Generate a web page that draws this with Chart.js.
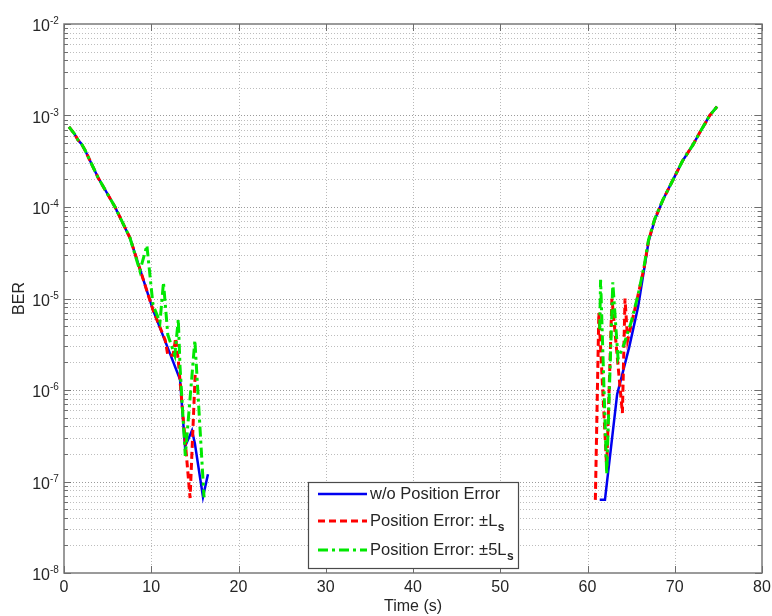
<!DOCTYPE html>
<html><head><meta charset="utf-8">
<script src="https://cdn.jsdelivr.net/npm/chart.js@4.4.1/dist/chart.umd.min.js"></script>
<style>html,body{margin:0;padding:0;background:#fff;}#wrap{width:772px;height:616px;}</style>
</head><body><div id="wrap"><canvas id="c" width="772" height="616"></canvas></div>
<script>
// ---- data (time in s, BER) ----
const tBlueL = [0.57, 1.2, 1.6, 2.0, 2.4, 3.9, 5.85, 7.56, 10.2, 12.15, 13.3, 13.87, 14.67, 15.0, 15.93, 16.5];
const berBlueL = [7.5e-4, 6.3e-4, 5.4e-4, 4.9e-4, 4.2e-4, 2.1e-4, 1.0e-4, 4.6e-5, 7.5e-6, 2.5e-6, 1.3e-6, 2.4e-7, 3.6e-7, 2.6e-7, 6.8e-8, 1.2e-7];
const tBlueR = [61.4, 62.0, 63.4, 64.0, 64.8, 65.8, 67.0, 67.7, 68.65, 70.04, 70.9, 72.1, 72.9, 74.0, 74.85];
const berBlueR = [6.3e-8, 6.3e-8, 9e-7, 1.5e-6, 3e-6, 8.1e-6, 4.2e-5, 7.2e-5, 1.2e-4, 2.2e-4, 3.2e-4, 4.8e-4, 6.6e-4, 1.0e-3, 1.25e-3];

const tRedL = [0.57, 1.2, 1.6, 2.0, 2.4, 3.9, 5.85, 7.56, 10.2, 11.6, 11.9, 12.5, 12.8, 13.1, 14.45, 15.05];
const berRedL = [7.5e-4, 6.3e-4, 5.4e-4, 4.9e-4, 4.2e-4, 2.1e-4, 1.0e-4, 4.6e-5, 7.5e-6, 3.5e-6, 2.4e-6, 2.4e-6, 3.7e-6, 2.1e-6, 6.6e-8, 1.6e-6];
const tRedR = [60.9, 61.3, 62.2, 62.8, 64.0, 64.3, 64.6, 65.6, 66.5, 67.0, 67.7, 68.65, 70.04, 70.9, 72.1, 72.9, 74.0, 74.85];
const berRedR = [6.3e-8, 7e-6, 1.4e-7, 1.0e-5, 5.6e-7, 1.0e-5, 3.5e-6, 9e-6, 2.2e-5, 4.3e-5, 7.3e-5, 1.2e-4, 2.2e-4, 3.2e-4, 4.8e-4, 6.6e-4, 1.0e-3, 1.25e-3];

const tGreenL = [0.57, 1.2, 1.6, 2.0, 2.4, 3.9, 5.85, 7.56, 8.7, 9.5, 9.8, 10.2, 11.0, 11.4, 11.9, 12.7, 13.1, 13.3, 13.9, 15.0, 16.05];
const berGreenL = [7.5e-4, 6.3e-4, 5.4e-4, 4.9e-4, 4.2e-4, 2.1e-4, 1.0e-4, 4.6e-5, 2.0e-5, 3.8e-5, 2.0e-5, 8.5e-6, 5.5e-6, 1.5e-5, 4.0e-6, 2.4e-6, 5.9e-6, 1.8e-6, 1.9e-7, 3.5e-6, 6.7e-8];
const tGreenR = [61.4, 61.5, 62.2, 62.9, 63.5, 64.2, 65.0, 65.8, 66.5, 67.0, 67.7, 68.65, 70.04, 70.9, 72.1, 72.9, 74.0, 74.85];
const berGreenR = [4.6e-6, 1.6e-5, 1.2e-7, 1.5e-5, 2.2e-6, 3.2e-6, 5.5e-6, 1.1e-5, 2.3e-5, 4.4e-5, 7.4e-5, 1.2e-4, 2.2e-4, 3.2e-4, 4.8e-4, 6.6e-4, 1.0e-3, 1.25e-3];

const xTicks = [0, 10, 20, 30, 40, 50, 60, 70, 80];
const yDecades = [-8, -7, -6, -5, -4, -3, -2];
const seriesLabels = ['w/o Position Error', 'Position Error: \u00B1L', 'Position Error: \u00B15L'];
const seriesSubs = ['', 's', 's'];
const xTitle = 'Time (s)';
const yTitle = 'BER';

function pts(tL, bL, tR, bR) {
  const a = [];
  tL.forEach((t, i) => a.push({x: t, y: bL[i]}));
  a.push({x: (tL[tL.length - 1] + tR[0]) / 2, y: null});
  tR.forEach((t, i) => a.push({x: t, y: bR[i]}));
  return a;
}

const TXT = '#262626';
const FONT = '"Liberation Sans", Arial, sans-serif';

const gridPlugin = {
  id: 'grid',
  beforeDatasetsDraw(chart) {
    const {ctx, chartArea: a, scales: {x, y}} = chart;
    ctx.save();
    ctx.lineWidth = 1;
    ctx.setLineDash([1, 2]);
    ctx.strokeStyle = '#b8b8b8';
    xTicks.forEach(v => {
      if (v === xTicks[0] || v === xTicks[xTicks.length - 1]) return;
      const px = Math.round(x.getPixelForValue(v)) + 0.5;
      ctx.beginPath(); ctx.moveTo(px, a.top); ctx.lineTo(px, a.bottom); ctx.stroke();
    });
    for (let i = 0; i < yDecades.length - 1; i++) {
      for (let m = 1; m <= 9; m++) {
        if (m === 1 && i === 0) continue;
        const v = m * Math.pow(10, yDecades[i]);
        const py = Math.round(y.getPixelForValue(v)) + 0.5;
        ctx.strokeStyle = m === 1 ? '#9a9a9a' : '#bdbdbd';
        ctx.beginPath(); ctx.moveTo(a.left, py); ctx.lineTo(a.right, py); ctx.stroke();
      }
    }
    ctx.restore();
  }
};

const framePlugin = {
  id: 'frame',
  afterDatasetsDraw(chart) {
    const {ctx, chartArea: a, scales: {x, y}} = chart;
    const dsets = chart.data.datasets;
    ctx.save();
    ctx.setLineDash([]);
    // box
    ctx.strokeStyle = '#7a7a7a';
    ctx.lineWidth = 1.5;
    ctx.strokeRect(a.left, a.top, a.right - a.left, a.bottom - a.top);
    // ticks
    ctx.lineWidth = 1;
    ctx.strokeStyle = '#6e6e6e';
    xTicks.forEach(v => {
      const px = Math.round(x.getPixelForValue(v)) + 0.5;
      ctx.beginPath();
      ctx.moveTo(px, a.bottom); ctx.lineTo(px, a.bottom - 7);
      ctx.moveTo(px, a.top); ctx.lineTo(px, a.top + 7);
      ctx.stroke();
    });
    for (let i = 0; i < yDecades.length; i++) {
      for (let m = 1; m <= 9; m++) {
        if (i === yDecades.length - 1 && m > 1) break;
        const v = m * Math.pow(10, yDecades[i]);
        const py = Math.round(y.getPixelForValue(v)) + 0.5;
        const len = m === 1 ? 7 : 4;
        ctx.beginPath();
        ctx.moveTo(a.left, py); ctx.lineTo(a.left + len, py);
        ctx.moveTo(a.right, py); ctx.lineTo(a.right - len, py);
        ctx.stroke();
      }
    }
    // tick labels
    ctx.fillStyle = TXT;
    ctx.font = '16px ' + FONT;
    ctx.textAlign = 'center';
    ctx.textBaseline = 'middle';
    xTicks.forEach(v => {
      ctx.fillText(String(v), x.getPixelForValue(v), a.bottom + 15);
    });
    yDecades.forEach(d => {
      const py = y.getPixelForValue(Math.pow(10, d));
      ctx.font = '16px ' + FONT;
      ctx.textAlign = 'right';
      ctx.textBaseline = 'alphabetic';
      ctx.fillText('10', a.left - 14, py + 7);
      ctx.font = '10px ' + FONT;
      ctx.textAlign = 'left';
      ctx.fillText('-' + String(-d), a.left - 14, py);
    });
    // titles
    ctx.font = '16px ' + FONT;
    ctx.textAlign = 'center';
    ctx.textBaseline = 'middle';
    ctx.fillText(xTitle, (a.left + a.right) / 2, a.bottom + 34);
    ctx.save();
    ctx.translate(20, (a.top + a.bottom) / 2);
    ctx.rotate(-Math.PI / 2);
    ctx.fillText(yTitle, 0, 0);
    ctx.restore();
    // legend
    const bx = a.left + 244, by = a.bottom - 91, bw = 210, bh = 86;
    ctx.fillStyle = '#fff';
    ctx.fillRect(bx, by, bw, bh);
    ctx.strokeStyle = '#4a4a4a';
    ctx.lineWidth = 1.2;
    ctx.strokeRect(bx + 0.5, by + 0.5, bw, bh);
    const rows = [12, 39, 68];
    dsets.forEach((ds, i) => {
      const ry = by + rows[i];
      ctx.save();
      ctx.strokeStyle = ds.borderColor;
      ctx.lineWidth = ds.borderWidth;
      ctx.setLineDash(ds.borderDash || []);
      ctx.beginPath(); ctx.moveTo(bx + 10, ry); ctx.lineTo(bx + 59, ry); ctx.stroke();
      ctx.restore();
      ctx.fillStyle = TXT;
      ctx.font = '16.5px ' + FONT;
      ctx.textAlign = 'left';
      ctx.textBaseline = 'middle';
      ctx.fillText(seriesLabels[i], bx + 62, ry);
      if (seriesSubs[i]) {
        const w = ctx.measureText(seriesLabels[i]).width;
        ctx.font = 'bold 12px ' + FONT;
        ctx.fillText(seriesSubs[i], bx + 62 + w + 0.5, ry + 7);
      }
    });
    ctx.restore();
  }
};

new Chart(document.getElementById('c').getContext('2d'), {
  type: 'line',
  data: {
    datasets: [
      {label: seriesLabels[0], data: pts(tBlueL, berBlueL, tBlueR, berBlueR), borderColor: '#0000f0', borderWidth: 2.5, pointRadius: 0, tension: 0, spanGaps: false, order: 3},
      {label: seriesLabels[1], data: pts(tRedL, berRedL, tRedR, berRedR), borderColor: '#ff0000', borderWidth: 3, borderDash: [7, 4], pointRadius: 0, tension: 0, spanGaps: false, order: 2},
      {label: seriesLabels[2], data: pts(tGreenL, berGreenL, tGreenR, berGreenR), borderColor: '#00e800', borderWidth: 3, borderDash: [10, 4, 3, 4], pointRadius: 0, tension: 0, spanGaps: false, order: 1}
    ]
  },
  options: {
    responsive: false,
    animation: false,
    devicePixelRatio: 1,
    layout: {padding: {left: 64, top: 24, right: 10, bottom: 43}},
    plugins: {legend: {display: false}, tooltip: {enabled: false}},
    scales: {
      x: {type: 'linear', min: 0, max: 80, ticks: {display: false}, grid: {display: false}, border: {display: false}, afterFit: s => { s.height = 0; }},
      y: {type: 'logarithmic', min: 1e-8, max: 1e-2, ticks: {display: false}, grid: {display: false}, border: {display: false}, afterFit: s => { s.width = 0; }}
    }
  },
  plugins: [gridPlugin, framePlugin]
});
</script>
</body></html>
